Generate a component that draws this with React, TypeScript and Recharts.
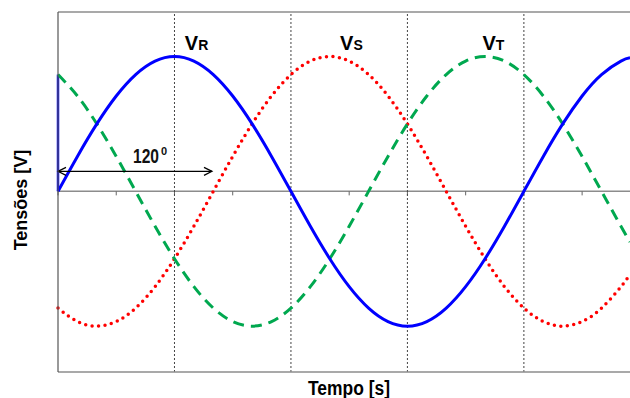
import React from 'react';
import { LineChart, Line, XAxis, YAxis, ReferenceLine, ReferenceDot } from 'recharts';

// electrical angle in degrees (x axis runs from 0 to 442 deg)
const angles = [0, 15, 30, 45, 60, 75, 90, 105, 120, 135, 150, 165, 180, 195, 210, 225, 240, 255, 270, 285, 300, 315, 330, 345, 360, 375, 390, 405, 420, 435, 442];

// per-unit voltages
const vR = [0, 0.259, 0.5, 0.707, 0.866, 0.966, 1, 0.966, 0.866, 0.707, 0.5, 0.259, 0, -0.259, -0.5, -0.707, -0.866, -0.966, -1, -0.966, -0.866, -0.707, -0.5, -0.259, 0, 0.259, 0.5, 0.707, 0.866, 0.966, 0.99];
const vS = [-0.866, -0.966, -1, -0.966, -0.866, -0.707, -0.5, -0.259, 0, 0.259, 0.5, 0.707, 0.866, 0.966, 1, 0.966, 0.866, 0.707, 0.5, 0.259, 0, -0.259, -0.5, -0.707, -0.866, -0.966, -1, -0.966, -0.866, -0.707, -0.616];
const vT = [0.866, 0.707, 0.5, 0.259, 0, -0.259, -0.5, -0.707, -0.866, -0.966, -1, -0.966, -0.866, -0.707, -0.5, -0.259, 0, 0.259, 0.5, 0.707, 0.866, 0.966, 1, 0.966, 0.866, 0.707, 0.5, 0.259, 0, -0.259, -0.375];

const xDomain = [0, 442];
const yDomain = [-1.34, 1.33];
const zeroTicks = [0, 45, 90, 135, 180, 225, 270, 315, 360, 405];
const dashedAngles = [90, 180, 270, 360];
const phaseNames = ['R', 'S', 'T'];
const phaseLabelAngles = [98, 218, 328];
const phaseLabelLevel = 1.045;
const shiftArrow = { from: 0, to: 119, level: 0.148, text: '120', sup: '0' };

const data = angles.map((a, i) => ({ a, vR: vR[i], vS: vS[i], vT: vT[i] }));

const FONT = '"Liberation Sans", Arial, sans-serif';

const PhaseLabel = ({ viewBox, name }: any) => {
    if (!viewBox) return null;
    return (
        <text x={viewBox.x} y={viewBox.y} fontFamily={FONT} fontWeight="bold" fill="#000">
            <tspan fontSize={20}>V</tspan>
            <tspan fontSize={14}>{name}</tspan>
        </text>
    );
};

// double headed arrow with the phase shift text above it
const ShiftArrow = (props: any) => {
    const { x1, y1, x2, y2 } = props;
    const h = 8;
    const w = 4;
    return (
        <g>
            <line x1={x1} y1={y1} x2={x2} y2={y2} stroke="#000" strokeWidth={1.2} />
            <polyline points={`${x1 + h},${y1 - w} ${x1},${y1} ${x1 + h},${y1 + w}`} fill="none" stroke="#000" strokeWidth={1.2} />
            <polyline points={`${x2 - h},${y2 - w} ${x2},${y2} ${x2 - h},${y2 + w}`} fill="none" stroke="#000" strokeWidth={1.2} />
            {/* the original digits are narrow and tall */}
            <g transform={`translate(${x1 + 75} ${y1 - 8}) scale(0.8 1)`}>
                <text x={0} y={0} fontFamily={FONT} fontWeight="bold" fontSize={19.5} fill="#111">
                    {shiftArrow.text}
                </text>
            </g>
            <text x={x1 + 103} y={y1 - 16} fontFamily={FONT} fontWeight="bold" fontSize={11} fill="#111">
                {shiftArrow.sup}
            </text>
        </g>
    );
};

const App: React.FC = () => {
    return (
        <div style={{ position: 'absolute', left: 0, top: 0, width: 630, height: 398, background: '#fff' }}>
            <LineChart width={630} height={398} data={data} margin={{ top: 12, right: 0, bottom: 0, left: 0 }}>
                <XAxis
                    dataKey="a"
                    type="number"
                    domain={xDomain}
                    ticks={zeroTicks}
                    tick={false}
                    tickLine={false}
                    height={26}
                    axisLine={{ stroke: '#8c8c8c', strokeWidth: 1.5 }}
                    label={{
                        content: ({ viewBox }: any) => (
                            <text x={viewBox.x + viewBox.width / 2 + 5} y={viewBox.y + 23} textAnchor="middle" fontFamily={FONT} fontWeight="bold" fontSize={19.5} fill="#000" textLength={82} lengthAdjust="spacingAndGlyphs">
                                Tempo [s]
                            </text>
                        ),
                    }}
                />
                <YAxis
                    type="number"
                    domain={yDomain}
                    ticks={[yDomain[0], 0, yDomain[1]]}
                    tick={false}
                    tickSize={5}
                    width={58}
                    axisLine={{ stroke: '#555', strokeWidth: 1.2 }}
                    tickLine={{ stroke: '#555' }}
                    label={{
                        content: ({ viewBox }: any) => {
                            const cx = viewBox.x + 21;
                            const cy = viewBox.y + viewBox.height / 2 + 8;
                            return (
                                <text x={cx} y={cy} transform={`rotate(-90 ${cx} ${cy})`} textAnchor="middle" dominantBaseline="central" fontFamily={FONT} fontWeight="bold" fontSize={18} fill="#000">
                                    Tensões [V]
                                </text>
                            );
                        },
                    }}
                />
                <ReferenceLine y={yDomain[1]} stroke="#8c8c8c" strokeWidth={1.5} />
                <ReferenceLine y={0} stroke="#8c8c8c" strokeWidth={1.5} />
                {zeroTicks.map((a) => (
                    <ReferenceLine key={'t' + a} segment={[{ x: a, y: 0 }, { x: a, y: -0.03 }]} stroke="#666" />
                ))}
                {dashedAngles.map((a) => (
                    <ReferenceLine key={'d' + a} x={a} stroke="#444" strokeDasharray="2 2" />
                ))}
                <ReferenceLine segment={[{ x: 0, y: vR[0] }, { x: 0, y: vT[0] }]} stroke="#0000ff" strokeWidth={2.5} />
                <Line dataKey="vS" type="natural" stroke="#ff0000" strokeWidth={3.5} strokeDasharray="0 6.5" strokeLinecap="round" dot={false} isAnimationActive={false} />
                <Line dataKey="vT" type="natural" stroke="#00a84f" strokeWidth={3} strokeDasharray="11 7" dot={false} isAnimationActive={false} />
                <Line dataKey="vR" type="natural" stroke="#0000ff" strokeWidth={3} dot={false} isAnimationActive={false} />
                <ReferenceLine
                    segment={[{ x: shiftArrow.from, y: shiftArrow.level }, { x: shiftArrow.to, y: shiftArrow.level }]}
                    shape={ShiftArrow}
                />
                {phaseNames.map((n, i) => (
                    <ReferenceDot
                        key={n}
                        x={phaseLabelAngles[i]}
                        y={phaseLabelLevel}
                        r={0}
                        fill="none"
                        stroke="none"
                        label={{ content: (p: any) => <PhaseLabel viewBox={p.viewBox} name={n} /> }}
                    />
                ))}
            </LineChart>
        </div>
    );
};

export default App;
